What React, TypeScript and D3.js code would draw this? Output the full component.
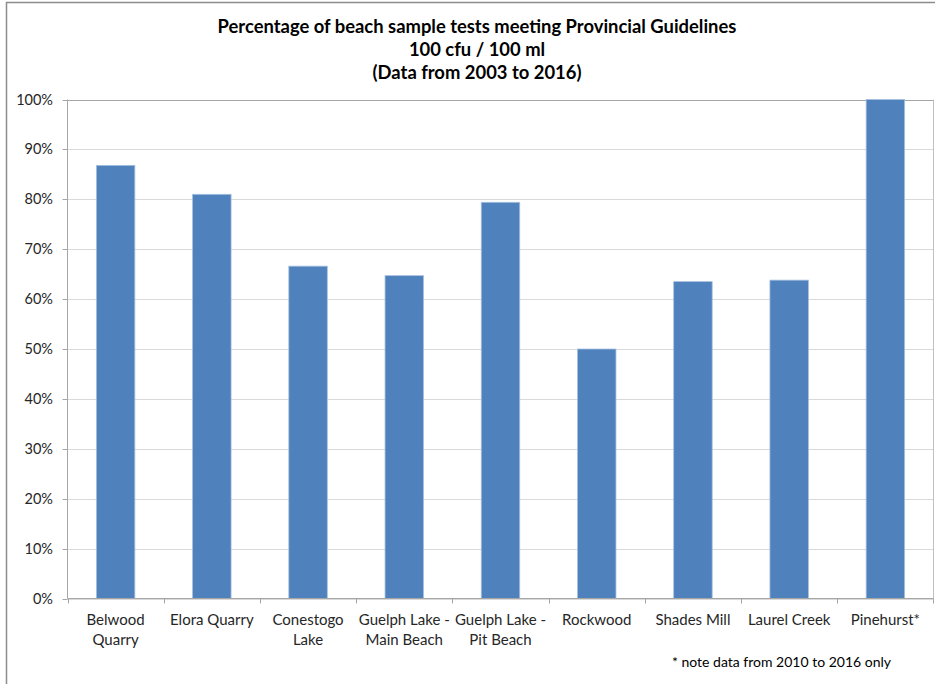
import React from "react";
import * as d3 from "d3";

const categories = [
  "Belwood Quarry",
  "Elora Quarry",
  "Conestogo Lake",
  "Guelph Lake - Main Beach",
  "Guelph Lake - Pit Beach",
  "Rockwood",
  "Shades Mill",
  "Laurel Creek",
  "Pinehurst*",
];
const labelLines = [
  ["Belwood", "Quarry"],
  ["Elora Quarry"],
  ["Conestogo", "Lake"],
  ["Guelph Lake -", "Main Beach"],
  ["Guelph Lake -", "Pit Beach"],
  ["Rockwood"],
  ["Shades Mill"],
  ["Laurel Creek"],
  ["Pinehurst*"],
];
const values = [0.868, 0.81, 0.666, 0.647, 0.794, 0.5, 0.635, 0.638, 1.0];
const yTicks = [0, 0.1, 0.2, 0.3, 0.4, 0.5, 0.6, 0.7, 0.8, 0.9, 1.0];
const titleLines = [
  "Percentage of beach sample tests meeting Provincial Guidelines",
  "100 cfu / 100 ml",
  "(Data from 2003 to 2016)",
];
const footnote = "* note data from 2010 to 2016 only";

const W = 935;
const H = 684;
const left = 67.5;
const right = 933.5;
const top = 99.5;
const bottom = 598.5;
const font = "Lato, 'Open Sans', sans-serif";

export default function App() {
  const x = d3.scaleBand<string>().domain(categories).range([left, right]).paddingInner(0).paddingOuter(0);
  const y = d3.scaleLinear().domain([0, 1]).range([bottom, top]);
  const bw = x.bandwidth() * 0.4;
  const fmt = d3.format(".0%");
  return (
    <svg width={W} height={H} style={{ position: "absolute", left: 0, top: 0, background: "#fff" }}>
      <rect x={6.5} y={2.5} width={W + 10} height={H + 10} fill="#fff" stroke="#8c8c8c" strokeWidth={1.5} />
      {titleLines.map((t, i) => (
        <text key={i} x={477} y={33 + i * 23} textAnchor="middle" fontFamily={font} fontWeight={700} fontSize={18.4} fill="#000">
          {t}
        </text>
      ))}
      {yTicks.map((t) => (
        <g key={t}>
          <line x1={left} x2={right} y1={Math.round(y(t)) + 0.5} y2={Math.round(y(t)) + 0.5} stroke={t === 1 ? "#a6a6a6" : "#d9d9d9"} strokeWidth={1} />
          <line x1={left - 5} x2={left} y1={Math.round(y(t)) + 0.5} y2={Math.round(y(t)) + 0.5} stroke="#a6a6a6" />
          <text x={53} y={y(t)} dy="0.35em" textAnchor="end" fontFamily={font} fontSize={14.5} fill="#262626">
            {fmt(t)}
          </text>
        </g>
      ))}
      <line x1={right} x2={right} y1={top} y2={bottom} stroke="#bfbfbf" />
      {categories.map((c, i) => (
        <rect key={c} x={(x(c) as number) + (x.bandwidth() - bw) / 2} y={y(values[i])} width={bw} height={bottom - y(values[i])} fill="#4f81bd" stroke="#a7c0de" strokeWidth={0.8} />
      ))}
      <line x1={left} x2={left} y1={top} y2={bottom} stroke="#a6a6a6" />
      <line x1={left} x2={right} y1={bottom} y2={bottom} stroke="#a6a6a6" />
      {categories.map((c, i) => (
        <line key={"t" + i} x1={Math.round(x(c) as number) + 0.5} x2={Math.round(x(c) as number) + 0.5} y1={bottom} y2={bottom + 5} stroke="#a6a6a6" />
      ))}
      <line x1={right} x2={right} y1={bottom} y2={bottom + 5} stroke="#a6a6a6" />
      {categories.map((c, i) => (
        <text key={"l" + i} x={(x(c) as number) + x.bandwidth() / 2} y={625} textAnchor="middle" fontFamily={font} fontSize={15} fill="#262626">
          {labelLines[i].map((ln, j) => (
            <tspan key={j} x={(x(c) as number) + x.bandwidth() / 2} dy={j === 0 ? 0 : 20}>
              {ln}
            </tspan>
          ))}
        </text>
      ))}
      <text x={891} y={667} textAnchor="end" fontFamily={font} fontSize={14} fill="#000">
        {footnote}
      </text>
    </svg>
  );
}
